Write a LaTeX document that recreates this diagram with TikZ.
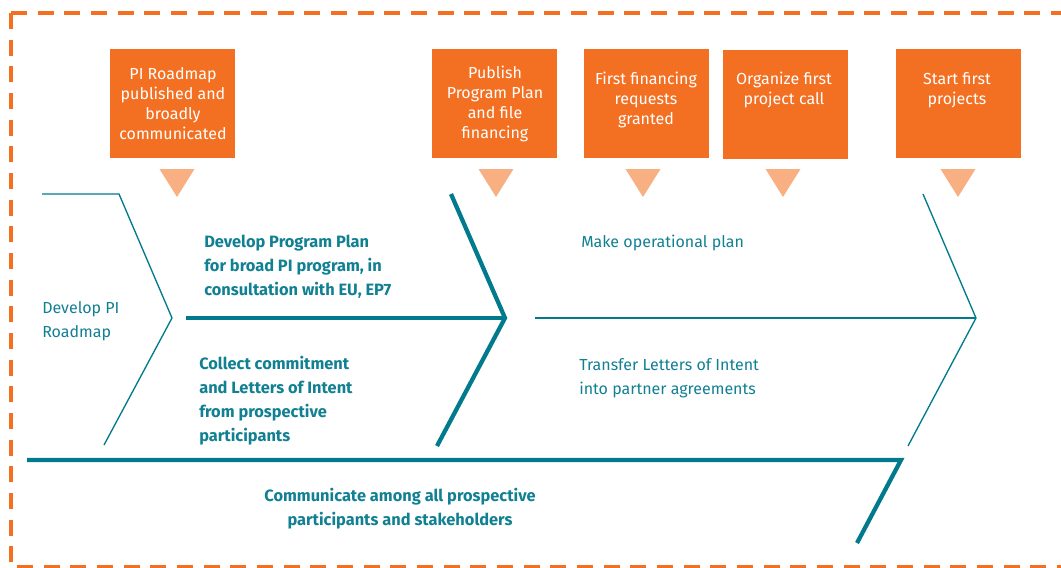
\documentclass[tikz,border=0pt]{standalone}
\usepackage{fontspec}
\setmainfont{Fira Sans}
\definecolor{brandorange}{RGB}{243,112,35}
\definecolor{lightorange}{RGB}{248,176,131}
\definecolor{brandteal}{RGB}{0,122,140}
\definecolor{textteal}{RGB}{16,128,146}
\begin{document}
\begin{tikzpicture}[x=0.75pt,y=-0.75pt,
  milestone/.style={fill=brandorange, draw=none, minimum width=93.75pt, minimum height=81.75pt, inner sep=0pt, anchor=north west},
  boxtext/.style={text=white, align=center, font=\fontsize{12}{15}\selectfont, anchor=base, inner sep=0pt},
  marker/.style={fill=lightorange, draw=none},
  phasetext/.style={text=textteal, align=left, font=\fontsize{12}{17.8}\selectfont, anchor=base west, inner sep=0pt},
  phasebold/.style={phasetext, font=\fontsize{12.3}{17.8}\bfseries\selectfont},
  thinline/.style={draw=brandteal, line width=1pt},
  thickline/.style={draw=brandteal, line width=3.2pt},
  frame/.style={draw=brandorange, line width=3pt, dash pattern=on 12pt off 8pt}
]
\useasboundingbox (0,0) rectangle (1061,568);
% dashed frame
\draw[frame] (11,13) -- (1075,13);
\draw[frame] (11,13) -- (11,567) -- (1075,567);

% milestone boxes
\node[milestone] (m1) at (110,49) {};
\node[milestone] (m2) at (432,49) {};
\node[milestone] (m3) at (584,49) {};
\node[milestone] (m4) at (723,50) {};
\node[milestone] (m5) at (896,49) {};

% box texts (anchored at the baseline of their last line)
\node[boxtext] (t1) at (173,139) {PI Roadmap\\published and\\broadly\\communicated};
\node[boxtext] (t2) at (495,138) {Publish\\Program Plan\\and file\\financing};
\node[boxtext] (t3) at (646,124.5) {First financing\\requests\\granted};
\node[boxtext] (t4) at (784,104.5) {Organize first\\project call};
\node[boxtext] (t5) at (957,104.5) {Start first\\projects};

% markers
\foreach \cx in {177,496,643,783,958}
  \fill[marker] (\cx-17.5,169) -- (\cx+17.5,169) -- (\cx,197) -- cycle;

% fishbone structure
\coordinate (a0) at (42,194);
\coordinate (a1) at (119,194);
\coordinate (a2) at (172,318);
\coordinate (a3) at (104,445);
\draw[thinline, line join=miter] (a0) -- (a1) -- (a2) -- (a3);

\coordinate (b0) at (186,318);
\coordinate (b1) at (451,194);
\coordinate (b2) at (505,318);
\coordinate (b3) at (437,446);
\draw[thickline] (b0) -- (b2);
\draw[thickline, line join=miter] (b1) -- (b2) -- (b3);

\coordinate (c0) at (535,318);
\coordinate (c1) at (923,194);
\coordinate (c2) at (976,318);
\coordinate (c3) at (908,446);
\draw[thinline] (c0) -- (c2);
\draw[thinline, line join=miter] (c1) -- (c2) -- (c3);

\coordinate (d0) at (27,460);
\coordinate (d1) at (901,460);
\coordinate (d2) at (857,543);
\draw[thickline, line join=miter] (d0) -- (d1) -- (d2);

% texts (anchored at the baseline of their last line)
\node[phasetext] (p1) at (42,337) {Develop PI\\Roadmap};
\node[phasebold] (p2) at (204,295) {Develop Program Plan\\for broad PI program, in\\consultation with EU, EP7};
\node[phasebold] (p3) at (199,441) {Collect commitment\\and Letters of Intent\\from prospective\\participants};
\node[phasetext] (p4) at (581,247) {Make operational plan};
\node[phasetext] (p5) at (579,394) {Transfer Letters of Intent\\into partner agreements};
\node[phasebold, align=center, anchor=base] (p6) at (400,525) {Communicate among all prospective\\participants and stakeholders};
\end{tikzpicture}
\end{document}
